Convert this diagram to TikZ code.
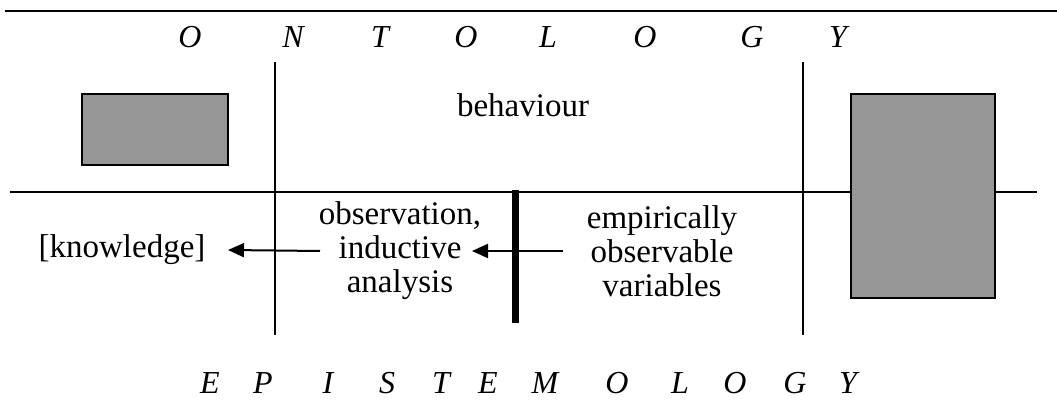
\documentclass[tikz,border=0pt]{standalone}
\usepackage{fontspec}
\setmainfont{Liberation Serif}
\usepackage{xcolor}
\usepackage{tikz}
\usetikzlibrary{arrows.meta}
\definecolor{boxgray}{RGB}{150,150,150}

\begin{document}
\begin{tikzpicture}[x=0.5pt,y=-0.5pt,
  every node/.style={font=\fontsize{16.5}{17}\selectfont},
  letter/.style={anchor=base,font=\fontsize{16}{16.5}\selectfont\itshape},
  arr/.style={-{Triangle[length=8pt,width=7pt]},line width=1pt}]
\useasboundingbox (0,0) rectangle (1057,405);

\draw[line width=1pt] (5,11) -- (1057,11);
\draw[line width=0.7pt] (10,192) -- (1037,192);
\draw[line width=0.7pt] (275,62) -- (275,335);
\draw[line width=0.7pt] (803,62) -- (803,335);
\fill[boxgray] (82,94) rectangle (228,165);
\draw[line width=0.9pt] (82,94) rectangle (228,165);
\fill[boxgray] (851,94) rectangle (995,298);
\draw[line width=0.9pt] (851,94) rectangle (995,298);
\draw[line width=3.5pt] (515.5,190) -- (515.5,323);

\foreach \x/\l [count=\i] in {190/O,293/N,380/T,466/O,548/L,645/O,752/G,838/Y}
  \node[letter] (ont\i) at (\x,48) {\l};
\foreach \x/\l [count=\i] in {210/E,263/P,328/I,387/S,441/T,488/E,545/M,617/O,680/L,735/O,795/G,848/Y}
  \node[letter] (epi\i) at (\x,394) {\l};

\node (beh) at (523,105) {behaviour};
\node (know) at (122,250) {[knowledge]};
\node[align=center] (obs) at (400,251) {observation,\\inductive\\analysis};
\node[align=center] (emp) at (662,251) {empirically\\observable\\variables};

\draw[arr] ([xshift=-40pt]obs.center) -- ([xshift=53pt]know.center);
\draw[arr] ([xshift=-49.5pt]emp.center) -- ([xshift=36pt]obs.center);
\end{tikzpicture}
\end{document}
